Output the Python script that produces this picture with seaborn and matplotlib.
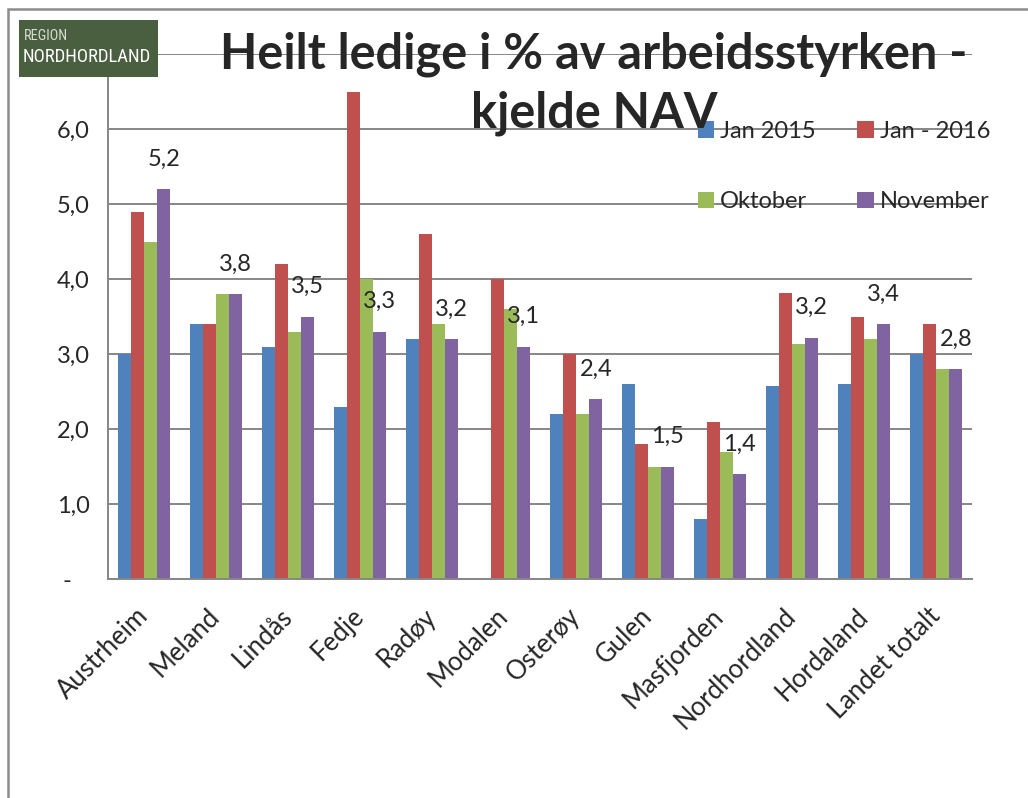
import pandas as pd
import matplotlib
matplotlib.use("Agg")
import matplotlib.pyplot as plt
import seaborn as sns
from matplotlib.patches import Rectangle
from matplotlib import font_manager

# data
kommuner = ['Austrheim', 'Meland', 'Lindås', 'Fedje', 'Radøy', 'Modalen', 'Osterøy',
            'Gulen', 'Masfjorden', 'Nordhordland', 'Hordaland', 'Landet totalt']
jan_2015 = [3.0, 3.4, 3.1, 2.3, 3.2, 0.0, 2.2, 2.6, 0.8, 2.57, 2.6, 3.0]
jan_2016 = [4.9, 3.4, 4.2, 6.5, 4.6, 4.0, 3.0, 1.8, 2.1, 3.81, 3.5, 3.4]
oktober = [4.5, 3.8, 3.3, 4.0, 3.4, 3.6, 2.2, 1.5, 1.7, 3.13, 3.2, 2.8]
november = [5.2, 3.8, 3.5, 3.3, 3.2, 3.1, 2.4, 1.5, 1.4, 3.22, 3.4, 2.8]
serier = ['Jan 2015', 'Jan - 2016', 'Oktober', 'November']
farger = ['#4F81BD', '#C0504D', '#9BBB59', '#8064A2']
ytick_labels = ['-\u00a0\u00a0\u00a0', '1,0', '2,0', '3,0', '4,0', '5,0', '6,0', '']

rows = []
for serie, vals in zip(serier, [jan_2015, jan_2016, oktober, november]):
    for k, v in zip(kommuner, vals):
        rows.append({'kommune': k, 'serie': serie, 'verdi': v})
df = pd.DataFrame(rows)

sns.set_style('white')
plt.rcParams['font.family'] = ['Lato', 'DejaVu Sans']

fig = plt.figure(figsize=(10.28, 7.98), dpi=100)
ax = fig.add_axes([108/1028, 1 - 579/798, (972-108)/1028, (579-54)/798])

sns.barplot(data=df, x='kommune', y='verdi', hue='serie', palette=farger,
            saturation=1, width=0.73, linewidth=0, ax=ax)

grid_c = '#868686'
ax.set_ylim(0, 7)
ax.set_xlim(-0.5, len(kommuner) - 0.5)
ax.set_yticks(range(8))
ax.set_yticklabels(ytick_labels, fontsize=17)
ax.yaxis.grid(True, color=grid_c, linewidth=1.4)
ax.set_axisbelow(True)
ax.set_xlabel('')
ax.set_ylabel('')
ax.tick_params(axis='y', length=0, pad=13)
ax.tick_params(axis='x', length=0, pad=24)
for lab in ax.get_xticklabels():
    lab.set_rotation(45)
    lab.set_ha('right')
    lab.set_va('center')
    lab.set_rotation_mode('anchor')
    lab.set_fontsize(18.5)
for s in ['top', 'right']:
    ax.spines[s].set_visible(False)
for s in ['left', 'bottom']:
    ax.spines[s].set_color(grid_c)
    ax.spines[s].set_linewidth(1.4)

# November values above the purple bars
ax.bar_label(ax.containers[3], labels=[f"{v:.1f}".replace('.', ',') for v in november],
             padding=14, fontsize=17)

# legend: rows Jan 2015 / Jan - 2016, then Oktober / November
old = ax.get_legend()
handles = old.legend_handles
labels = [t.get_text() for t in old.get_texts()]
old.remove()
order = [0, 2, 1, 3]
ax.legend([handles[i] for i in order], [labels[i] for i in order],
          loc='upper left', bbox_to_anchor=(686/1028, 1 - 109/798),
          bbox_transform=fig.transFigure, ncol=2, frameon=False,
          fontsize=17, handlelength=0.7, handleheight=0.7, handletextpad=0.25,
          columnspacing=1.75, labelspacing=2.1, borderpad=0)

# title
fig.text(594/1028, 1 - 84/798, 'Heilt ledige i % av arbeidsstyrken -\nkjelde NAV',
         ha='center', va='center', fontsize=35, fontweight='bold', linespacing=1.36)

# outer frame
fig.patches.append(Rectangle((8/1028, -0.1), 1.2, 1 - 9/798 + 0.1, transform=fig.transFigure,
                             fill=False, edgecolor='#8c8c8c', linewidth=1.8))

# logo
fig.patches.append(Rectangle((19/1028, 1 - 77/798), 139/1028, 57/798, transform=fig.transFigure,
                             facecolor='#4A5E40', edgecolor='none', zorder=5))

names = {(f.name, f.stretch) for f in font_manager.fontManager.ttflist}
logo_font = {'family': 'DejaVu Sans'}
for fam in ['Liberation Sans Narrow', 'Roboto Condensed', 'Open Sans Condensed']:
    if any(n == fam for n, _ in names):
        logo_font = {'family': fam}
        break
else:
    if ('DejaVu Sans', 'condensed') in names:
        logo_font = {'family': 'DejaVu Sans', 'stretch': 'condensed'}

t_reg = fig.text(24/1028, 1 - 36/798, 'REGION', color='#d8ddd4', fontsize=7,
                 va='center', zorder=6, **logo_font)
t_nord = fig.text(23/1028, 1 - 57/798, 'NORDHORDLAND', color='white', fontsize=15,
                  va='center', zorder=6, **logo_font)
fig.canvas.draw()
r = fig.canvas.get_renderer()
for t, target in [(t_nord, 129), (t_reg, 44)]:
    w = t.get_window_extent(r).width
    t.set_fontsize(t.get_fontsize() * target / w)

plt.savefig('out.png', dpi=100)
